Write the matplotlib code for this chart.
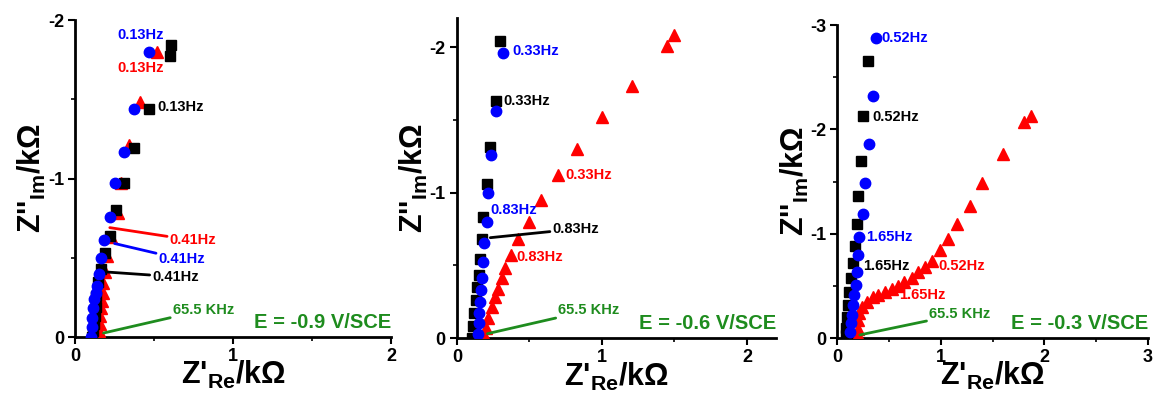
import matplotlib
matplotlib.use("Agg")
import matplotlib.pyplot as plt
from matplotlib.ticker import MultipleLocator, FormatStrFormatter

plt.rcParams['font.family'] = ['Liberation Sans', 'DejaVu Sans']
plt.rcParams['font.weight'] = 'bold'
plt.rcParams['axes.unicode_minus'] = False
plt.rcParams['mathtext.fontset'] = 'custom'
plt.rcParams['mathtext.bf'] = 'Liberation Sans:bold'
plt.rcParams['mathtext.rm'] = 'Liberation Sans:bold'

GREEN = '#1e8c1e'

# ---- E = -0.9 V/SCE ----
k1_re = [0.11, 0.115, 0.12, 0.125, 0.13, 0.135, 0.146, 0.165, 0.19, 0.22, 0.26, 0.31, 0.37, 0.47, 0.60, 0.61]
k1_im = [0, -0.04, -0.08, -0.13, -0.19, -0.26, -0.35, -0.43, -0.53, -0.64, -0.80, -0.97, -1.19, -1.44, -1.77, -1.84]
r1_re = [0.145, 0.15, 0.155, 0.16, 0.165, 0.17, 0.175, 0.18, 0.19, 0.20, 0.23, 0.27, 0.29, 0.34, 0.41, 0.52]
r1_im = [0, -0.04, -0.08, -0.13, -0.18, -0.23, -0.28, -0.34, -0.41, -0.51, -0.63, -0.78, -0.97, -1.21, -1.48, -1.80]
b1_re = [0.10, 0.105, 0.11, 0.115, 0.12, 0.13, 0.14, 0.15, 0.165, 0.185, 0.22, 0.25, 0.31, 0.37, 0.47]
b1_im = [0, -0.06, -0.12, -0.18, -0.24, -0.28, -0.32, -0.40, -0.50, -0.61, -0.76, -0.97, -1.17, -1.44, -1.80]

# ---- E = -0.6 V/SCE ----
k2_re = [0.105, 0.11, 0.12, 0.13, 0.14, 0.15, 0.16, 0.17, 0.18, 0.21, 0.23, 0.27, 0.30]
k2_im = [0, -0.08, -0.17, -0.26, -0.35, -0.43, -0.54, -0.68, -0.83, -1.06, -1.31, -1.63, -2.04]
r2_re = [0.19, 0.20, 0.215, 0.24, 0.26, 0.28, 0.31, 0.33, 0.37, 0.42, 0.50, 0.58, 0.70, 0.83, 1.00, 1.21, 1.45, 1.50]
r2_im = [-0.02, -0.07, -0.14, -0.21, -0.28, -0.34, -0.41, -0.48, -0.57, -0.68, -0.80, -0.95, -1.12, -1.30, -1.52, -1.73, -2.01, -2.08]
b2_re = [0.145, 0.15, 0.155, 0.16, 0.165, 0.17, 0.18, 0.19, 0.205, 0.215, 0.235, 0.27, 0.32]
b2_im = [-0.03, -0.10, -0.17, -0.25, -0.33, -0.41, -0.52, -0.65, -0.80, -1.00, -1.26, -1.56, -1.96]

# ---- E = -0.3 V/SCE ----
k3_re = [0.085, 0.09, 0.10, 0.11, 0.115, 0.135, 0.155, 0.175, 0.19, 0.20, 0.23, 0.25, 0.30]
k3_im = [-0.03, -0.10, -0.20, -0.32, -0.44, -0.58, -0.72, -0.88, -1.09, -1.36, -1.70, -2.13, -2.66]
r3_re = [0.20, 0.20, 0.20, 0.21, 0.24, 0.29, 0.345, 0.40, 0.46, 0.53, 0.59, 0.65, 0.72, 0.78,
         0.85, 0.92, 0.99, 1.07, 1.16, 1.28, 1.40, 1.60, 1.80, 1.875]
r3_im = [-0.03, -0.09, -0.17, -0.24, -0.30, -0.35, -0.39, -0.41, -0.44, -0.47, -0.50, -0.54, -0.58, -0.63,
         -0.68, -0.74, -0.84, -0.95, -1.09, -1.27, -1.49, -1.76, -2.07, -2.13]
b3_re = [0.125, 0.135, 0.145, 0.155, 0.165, 0.18, 0.19, 0.20, 0.21, 0.25, 0.27, 0.31, 0.35, 0.375]
b3_im = [-0.06, -0.14, -0.22, -0.32, -0.41, -0.51, -0.63, -0.80, -0.97, -1.19, -1.49, -1.86, -2.32, -2.88]

potentials = ['E = -0.9 V/SCE', 'E = -0.6 V/SCE', 'E = -0.3 V/SCE']
x_max = [2.0, 2.2, 3.0]
y_min = [-2.0, -2.2, -3.0]

# frequency labels: (text, x, y, colour)
labels1 = [('0.13Hz', 0.27, -1.905, 'blue'), ('0.13Hz', 0.265, -1.70, 'red'), ('0.13Hz', 0.52, -1.45, 'black')]
labels2 = [('0.33Hz', 0.38, -1.97, 'blue'), ('0.33Hz', 0.32, -1.63, 'black'), ('0.33Hz', 0.745, -1.12, 'red'),
           ('0.83Hz', 0.23, -0.88, 'blue'), ('0.83Hz', 0.41, -0.56, 'red')]
labels3 = [('0.52Hz', 0.43, -2.88, 'blue'), ('0.52Hz', 0.34, -2.12, 'black'), ('1.65Hz', 0.28, -0.97, 'blue'),
           ('1.65Hz', 0.25, -0.69, 'black'), ('0.52Hz', 0.98, -0.69, 'red'), ('1.65Hz', 0.60, -0.41, 'red')]

# labels joined to a point by a line: (text, point x, point y, label x, label y, colour)
leaders1 = [('0.41Hz', 0.22, -0.69, 0.60, -0.61, 'red'), ('0.41Hz', 0.25, -0.59, 0.53, -0.49, 'blue'),
            ('0.41Hz', 0.20, -0.41, 0.49, -0.38, 'black'), ('65.5 KHz', 0.18, -0.025, 0.62, -0.17, GREEN)]
leaders2 = [('0.83Hz', 0.23, -0.69, 0.66, -0.75, 'black'), ('65.5 KHz', 0.21, -0.03, 0.70, -0.19, GREEN)]
leaders3 = [('65.5 KHz', 0.22, -0.03, 0.89, -0.23, GREEN)]

panels = [
    (k1_re, k1_im, r1_re, r1_im, b1_re, b1_im, labels1, leaders1),
    (k2_re, k2_im, r2_re, r2_im, b2_re, b2_im, labels2, leaders2),
    (k3_re, k3_im, r3_re, r3_im, b3_re, b3_im, labels3, leaders3),
]
axes_pos = [[0.0648, 0.1596, 0.2729, 0.7905],
            [0.3946, 0.157, 0.2755, 0.798],
            [0.7228, 0.157, 0.2686, 0.7805]]

fig = plt.figure(figsize=(11.58, 4.01), dpi=100)

for i, (kx, ky, rx, ry, bx, by, labels, leaders) in enumerate(panels):
    ax = fig.add_axes(axes_pos[i])
    ax.plot(rx, ry, '^', color='red', ms=8, mec='red', zorder=3)
    ax.plot(kx, ky, 's', color='black', ms=6.5, zorder=4)
    ax.plot(bx, by, 'o', color='blue', ms=7.5, mec='blue', zorder=5)

    for txt, x, y, c in labels:
        ax.text(x, y, txt, color=c, fontsize=10.5, fontweight='bold', ha='left', va='center', zorder=6)
    for txt, px, py, lx, ly, c in leaders:
        ax.annotate(txt, xy=(px, py), xytext=(lx, ly), color=c, fontsize=10.5, fontweight='bold',
                    ha='left', va='center', zorder=6,
                    arrowprops=dict(arrowstyle='-', color=c, lw=2, shrinkA=0, shrinkB=0))

    ax.text(1.0, 0.046, potentials[i], transform=ax.transAxes, color=GREEN, fontsize=14.5,
            fontweight='bold', ha='right', va='center')

    ax.set_xlim(0, x_max[i])
    ax.set_ylim(0, y_min[i])
    ax.spines['top'].set_visible(False)
    ax.spines['right'].set_visible(False)
    ax.spines['left'].set_linewidth(2)
    ax.spines['bottom'].set_linewidth(2)
    ax.xaxis.set_major_locator(MultipleLocator(1))
    ax.xaxis.set_minor_locator(MultipleLocator(0.5))
    ax.yaxis.set_major_locator(MultipleLocator(1))
    ax.yaxis.set_minor_locator(MultipleLocator(0.5))
    ax.xaxis.set_major_formatter(FormatStrFormatter('%d'))
    ax.yaxis.set_major_formatter(FormatStrFormatter('%d'))
    ax.tick_params(which='major', direction='out', length=5, width=1.5, labelsize=13, pad=3)
    ax.tick_params(which='minor', direction='out', length=3, width=1.2)

    ax.set_xlabel("Z'$_{\\mathbf{Re}}$/k\u03a9", fontsize=22, fontweight='bold')
    ax.set_ylabel("Z''$_{\\mathbf{Im}}$/k\u03a9", fontsize=22, fontweight='bold')
    ax.xaxis.set_label_coords(0.5, -0.07)
    ax.yaxis.set_label_coords(-0.085, 0.5)

fig.savefig('out.png', dpi=100)
